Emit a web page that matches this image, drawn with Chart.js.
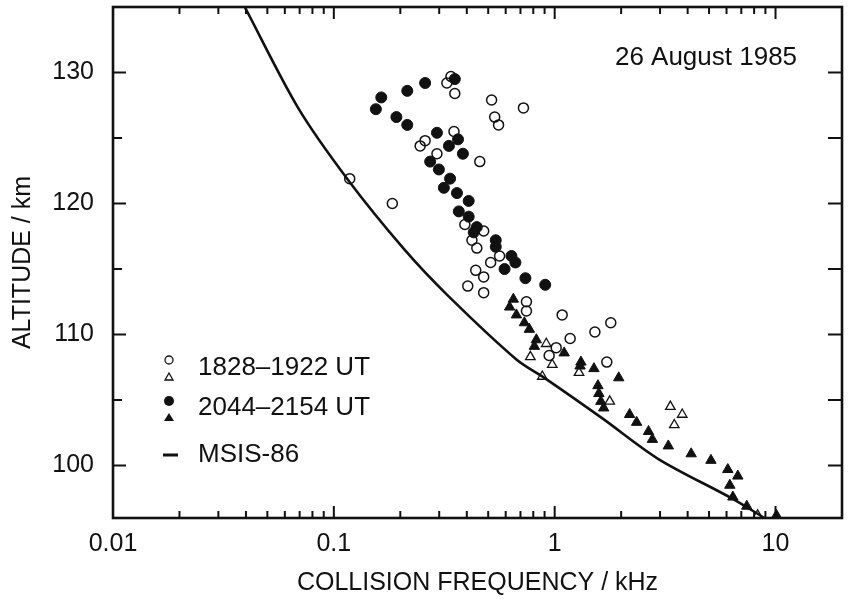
<!DOCTYPE html>
<html>
<head>
<meta charset="utf-8">
<title>Collision frequency</title>
<script src="https://cdn.jsdelivr.net/npm/chart.js@4.4.0/dist/chart.umd.min.js"></script>
<style>
  html, body { margin: 0; padding: 0; background: #fff; }
</style>
</head>
<body>
<canvas id="chart-js" width="849" height="599"></canvas>
<script>
// 1828-1922 UT, open circles
const earlyCircleFreq = [0.339, 0.325, 0.353, 0.518, 0.722, 0.535, 0.557, 0.350, 0.259, 0.246, 0.293, 0.458, 0.118, 0.184, 0.392, 0.477, 0.422, 0.444, 0.563, 0.513, 0.439, 0.477, 0.404, 0.477, 0.745, 0.745, 1.081, 1.795, 1.521, 1.175, 1.016, 0.944, 1.722];
const earlyCircleAlt = [129.7, 129.2, 128.4, 127.9, 127.3, 126.6, 126.0, 125.5, 124.8, 124.4, 123.8, 123.2, 121.9, 120.0, 118.4, 117.9, 117.2, 116.6, 116.0, 115.5, 114.9, 114.4, 113.7, 113.2, 112.5, 111.8, 111.5, 110.9, 110.2, 109.7, 109.0, 108.4, 107.9];

// 1828-1922 UT, open triangles
const earlyTriFreq = [0.916, 0.776, 0.975, 0.879, 1.289, 1.775, 3.34, 3.78, 3.48, 8.3];
const earlyTriAlt = [109.3, 108.3, 107.7, 106.8, 107.1, 104.9, 104.5, 103.9, 103.1, 96.2];

// 2044-2154 UT, filled circles
const lateCircleFreq = [0.353, 0.259, 0.215, 0.164, 0.155, 0.192, 0.215, 0.293, 0.365, 0.332, 0.384, 0.273, 0.299, 0.336, 0.315, 0.361, 0.408, 0.368, 0.408, 0.444, 0.430, 0.541, 0.541, 0.637, 0.664, 0.593, 0.737, 0.906];
const lateCircleAlt = [129.5, 129.2, 128.6, 128.1, 127.2, 126.6, 126.0, 125.4, 124.9, 124.4, 123.8, 123.2, 122.6, 121.9, 121.2, 120.8, 120.2, 119.4, 119.0, 118.2, 117.8, 117.2, 116.7, 116.0, 115.5, 115.0, 114.3, 113.8];

// 2044-2154 UT, filled triangles
const lateTriFreq = [0.650, 0.625, 0.671, 0.729, 0.768, 0.826, 0.809, 1.104, 1.315, 1.303, 1.506, 1.950, 1.570, 1.585, 1.618, 1.667, 2.184, 2.35, 2.66, 2.77, 3.27, 4.15, 5.10, 6.08, 6.75, 6.21, 6.41, 7.41, 10.1];
const lateTriAlt = [112.7, 112.1, 111.5, 110.9, 110.4, 109.6, 109.1, 108.6, 107.9, 107.6, 107.4, 106.7, 106.1, 105.5, 104.9, 104.4, 103.9, 103.3, 102.6, 102.0, 101.5, 100.9, 100.4, 99.7, 99.2, 98.5, 97.6, 96.9, 96.2];

// MSIS-86 model curve
const msisFreq = [0.0395, 0.0689, 0.116, 0.2085, 0.325, 0.671, 0.916, 1.645, 2.95, 6.34, 8.92];
const msisAlt = [135.0, 127.3, 121.8, 116.5, 113.05, 108.1, 106.6, 103.6, 100.5, 97.5, 96.0];

const xTickLabels = ["0.01", "0.1", "1", "10"];
const yTickLabels = [100, 110, 120, 130];

const ink = "#111111";
const fontFamily = "'Liberation Sans', Arial, Helvetica, sans-serif";

function toPoints(xs, ys) {
  return xs.map((x, i) => ({ x: x, y: ys[i] }));
}

// ticks pointing inwards on all four sides + frame, legend, date
const framePlugin = {
  id: "frame",
  afterDatasetsDraw(chart) {
    const { ctx, chartArea: a, scales } = chart;
    const xs = scales.x, ys = scales.y;
    ctx.save();
    ctx.strokeStyle = ink;
    ctx.lineWidth = 2;
    ctx.beginPath();
    for (let d = 0.01; d < 100; d *= 10) {
      for (let k = 1; k <= 9; k++) {
        const v = k * d;
        if (v <= xs.min * 1.0001 || v >= xs.max) continue;
        const px = xs.getPixelForValue(v);
        const len = k === 1 ? 12 : 7;
        ctx.moveTo(px, a.bottom);
        ctx.lineTo(px, a.bottom - len);
        ctx.moveTo(px, a.top);
        ctx.lineTo(px, a.top + len);
      }
    }
    for (let v = 100; v < ys.max; v += 5) {
      const py = ys.getPixelForValue(v);
      const len = v % 10 === 0 ? 13 : 9;
      ctx.moveTo(a.left, py);
      ctx.lineTo(a.left + len, py);
      ctx.moveTo(a.right, py);
      ctx.lineTo(a.right - 14, py);
    }
    ctx.stroke();
    ctx.lineWidth = 2.6;
    ctx.strokeRect(a.left, a.top, a.right - a.left, a.bottom - a.top);

    // date annotation
    ctx.fillStyle = ink;
    ctx.font = "26px " + fontFamily;
    ctx.textAlign = "center";
    ctx.textBaseline = "middle";
    ctx.fillText("26 August 1985", 706, 58);

    // legend
    ctx.textAlign = "left";
    ctx.fillText("1828\u20131922 UT", 198, 368);
    ctx.fillText("2044\u20132154 UT", 198, 408);
    ctx.fillText("MSIS-86", 198, 455);

    ctx.lineWidth = 1.3;
    ctx.beginPath();
    ctx.arc(169, 360, 4, 0, Math.PI * 2);
    ctx.stroke();
    ctx.beginPath();
    ctx.moveTo(169, 373);
    ctx.lineTo(173, 380);
    ctx.lineTo(165, 380);
    ctx.closePath();
    ctx.stroke();

    ctx.beginPath();
    ctx.arc(169, 401, 5, 0, Math.PI * 2);
    ctx.fill();
    ctx.beginPath();
    ctx.moveTo(169, 413);
    ctx.lineTo(174, 421);
    ctx.lineTo(164, 421);
    ctx.closePath();
    ctx.fill();

    ctx.lineWidth = 3;
    ctx.beginPath();
    ctx.moveTo(163, 455);
    ctx.lineTo(178, 455);
    ctx.stroke();
    ctx.restore();
  }
};

const ctx = document.getElementById("chart-js").getContext("2d");

new Chart(ctx, {
  type: "scatter",
  data: {
    datasets: [
      {
        label: "MSIS-86",
        data: toPoints(msisFreq, msisAlt),
        showLine: true,
        borderColor: ink,
        borderWidth: 2.6,
        pointRadius: 0,
        tension: 0.3,
        fill: false
      },
      {
        label: "1828-1922 UT",
        data: toPoints(earlyCircleFreq, earlyCircleAlt),
        pointStyle: "circle",
        pointRadius: 5,
        borderWidth: 1.5,
        borderColor: ink,
        backgroundColor: "rgba(0,0,0,0)"
      },
      {
        label: "1828-1922 UT (triangles)",
        data: toPoints(earlyTriFreq, earlyTriAlt),
        pointStyle: "triangle",
        pointRadius: 5.5,
        borderWidth: 1.3,
        borderColor: ink,
        backgroundColor: "rgba(0,0,0,0)"
      },
      {
        label: "2044-2154 UT",
        data: toPoints(lateCircleFreq, lateCircleAlt),
        pointStyle: "circle",
        pointRadius: 5.5,
        borderWidth: 1,
        borderColor: ink,
        backgroundColor: ink
      },
      {
        label: "2044-2154 UT (triangles)",
        data: toPoints(lateTriFreq, lateTriAlt),
        pointStyle: "triangle",
        pointRadius: 6,
        borderWidth: 1,
        borderColor: ink,
        backgroundColor: ink
      }
    ]
  },
  options: {
    responsive: false,
    animation: false,
    devicePixelRatio: 1,
    layout: { padding: { top: 6, right: 1, left: 0, bottom: 0 } },
    plugins: {
      legend: { display: false },
      tooltip: { enabled: false }
    },
    scales: {
      x: {
        type: "logarithmic",
        min: 0.01,
        max: 20,
        grid: { display: false, drawTicks: false },
        border: { display: false },
        ticks: {
          autoSkip: false,
          maxRotation: 0,
          padding: 11,
          color: ink,
          font: { family: fontFamily, size: 25 },
          callback: (v) => {
            const l = Math.log10(v);
            if (Math.abs(l - Math.round(l)) > 1e-6) return "";
            const lbl = xTickLabels[Math.round(l) + 2];
            return lbl === undefined ? "" : lbl;
          }
        },
        title: {
          display: true,
          text: "COLLISION FREQUENCY / kHz",
          color: ink,
          font: { family: fontFamily, size: 25 },
          padding: { top: 0, bottom: 1 }
        },
        afterFit: (scale) => {
          scale.height = 81;
          scale.paddingLeft = 0;
          scale.paddingRight = 0;
        }
      },
      y: {
        type: "linear",
        min: 96,
        max: 135,
        grid: { display: false, drawTicks: false },
        border: { display: false },
        ticks: {
          stepSize: 5,
          padding: 19,
          color: ink,
          font: { family: fontFamily, size: 25 },
          callback: (v) => (yTickLabels.includes(v) ? String(v) : "")
        },
        title: {
          display: true,
          text: "ALTITUDE / km",
          color: ink,
          font: { family: fontFamily, size: 25 },
          padding: { top: 8, bottom: 0 }
        },
        afterFit: (scale) => {
          scale.width = 113;
          scale.paddingTop = 0;
          scale.paddingBottom = 0;
        }
      }
    }
  },
  plugins: [framePlugin]
});
</script>
</body>
</html>
